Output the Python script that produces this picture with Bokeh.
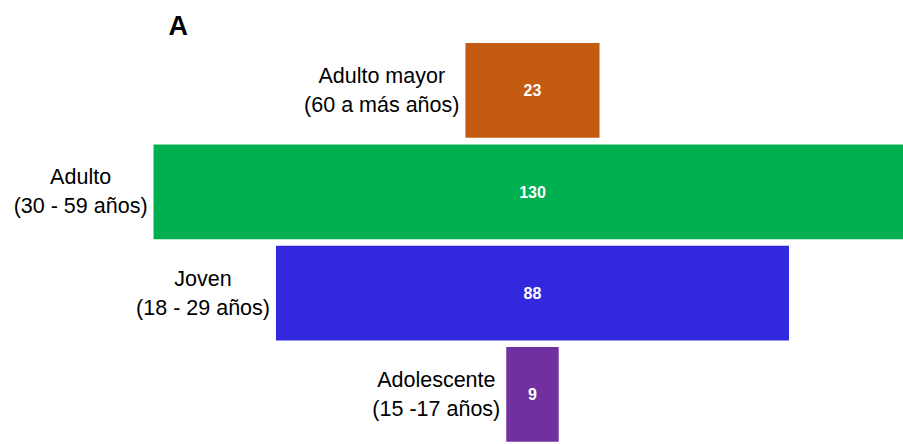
from bokeh.plotting import figure
from bokeh.models import ColumnDataSource, Label, Range1d
from bokeh.core.properties import value
from bokeh.embed import file_html
from bokeh.resources import INLINE

# Data (bottom to top)
groups = ["Adolescente", "Joven", "Adulto", "Adulto mayor"]
ranges_txt = ["(15 -17 años)", "(18 - 29 años)", "(30 - 59 años)", "(60 a más años)"]
counts = [9, 88, 130, 23]
colors = ["#7030A0", "#3229DE", "#00B050", "#C55A11"]

rows = list(range(len(groups)))
labels = [g + "\n" + r for g, r in zip(groups, ranges_txt)]

src = ColumnDataSource(dict(
    y=rows,
    left=[-c / 2 for c in counts],
    right=[c / 2 for c in counts],
    label=labels,
    val=[str(c) for c in counts],
    color=colors,
    zero=[0] * len(counts),
))

p = figure(width=903, height=444, output_backend="svg", toolbar_location=None,
           x_range=Range1d(-91.25, 63.64), y_range=Range1d(-0.494, 3.888),
           min_border=0, min_border_left=0, min_border_right=0,
           min_border_top=0, min_border_bottom=0)
p.axis.visible = False
p.grid.visible = False
p.outline_line_color = None
p.background_fill_color = "white"
p.border_fill_color = "white"

p.hbar(y="y", left="left", right="right", height=0.935, color="color",
       line_color=None, source=src)

p.text(x="zero", y="y", text="val", source=src, text_color="white",
       text_font=value("Liberation Sans"), text_font_size="16px",
       text_font_style="bold", text_align="center", text_baseline="middle")

p.text(x="left", y="y", text="label", source=src, text_color="#000000",
       text_font=value("Liberation Sans"), text_font_size="21.5px",
       text_align="center", text_baseline="middle", anchor="center_right",
       x_offset=-6, text_line_height=1.2)

title = Label(x=168, y=419, x_units="screen", y_units="screen", text="A",
              text_font="Liberation Sans", text_font_size="27px",
              text_font_style="bold", text_color="#000000",
              text_align="left", text_baseline="alphabetic")
p.add_layout(title)

open("out.html", "w").write(file_html(p, INLINE))
